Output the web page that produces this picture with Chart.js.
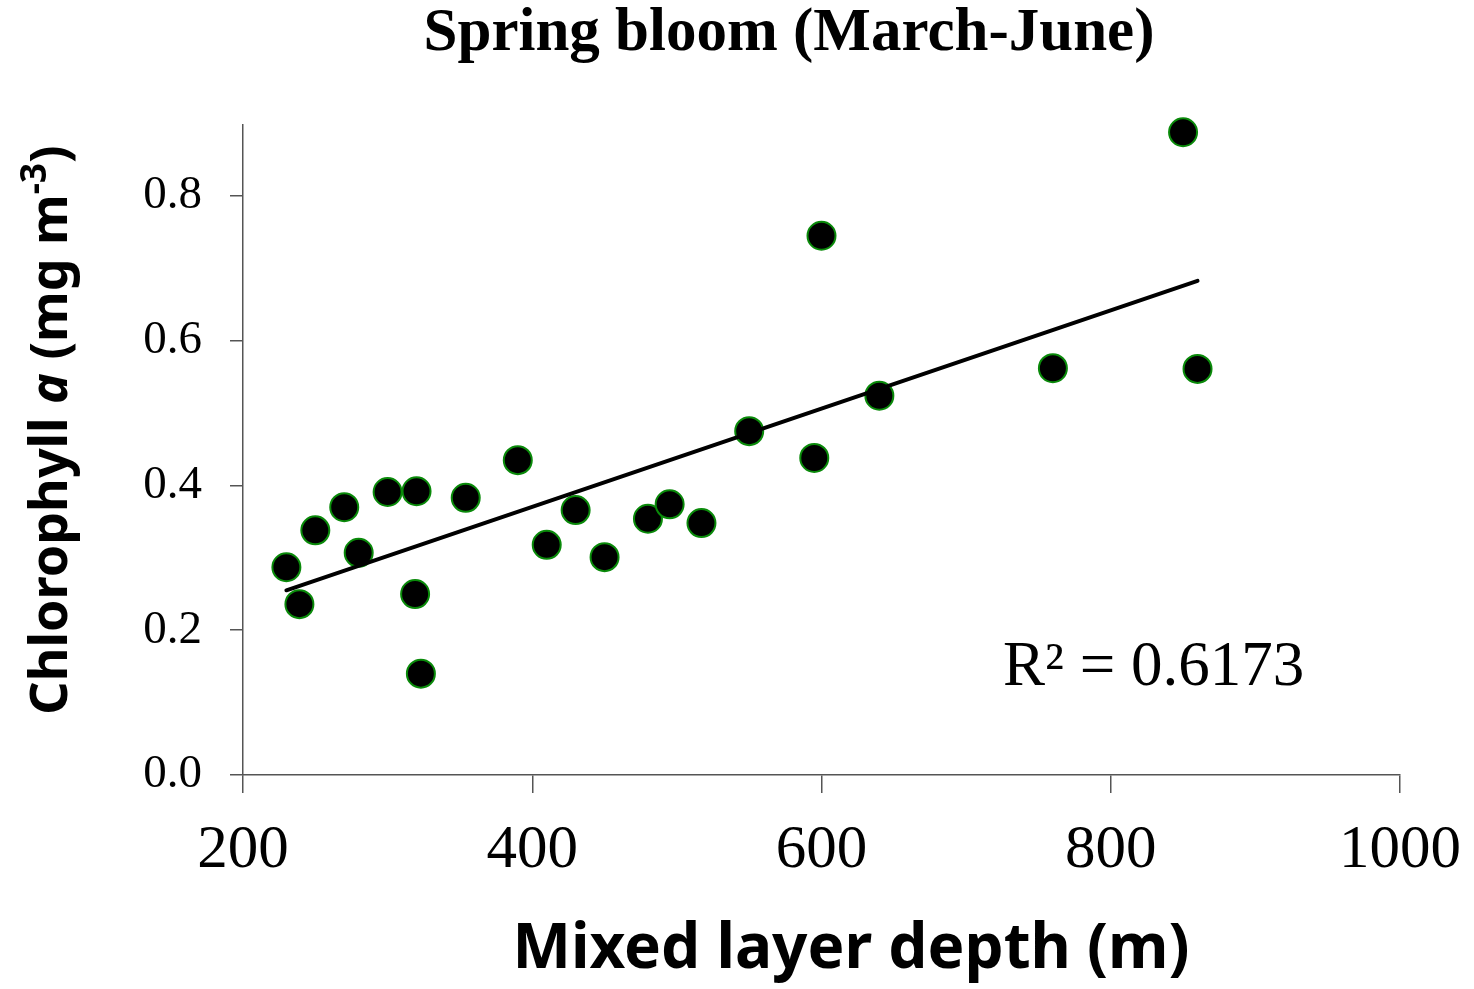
<!DOCTYPE html>
<html>
<head>
<meta charset="utf-8">
<script src="https://cdn.jsdelivr.net/npm/chart.js@4.4.1/dist/chart.umd.min.js"></script>
<style>
  html, body { margin: 0; padding: 0; background: #fff; }
  #wrap { width: 1474px; height: 989px; position: relative; }
</style>
</head>
<body>
<div id="wrap"><canvas id="c" width="1474" height="989"></canvas></div>
<script>
// Mixed layer depth (m) and chlorophyll a (mg m-3), spring bloom stations
const mixedLayerDepth = [230, 239, 250, 270, 280, 300, 320, 319, 323, 354, 390, 410, 430, 450, 480, 495, 517, 550, 595, 600, 640, 760, 850, 860];
const chlorophyll     = [0.287, 0.236, 0.338, 0.370, 0.307, 0.391, 0.392, 0.250, 0.140, 0.383, 0.435, 0.318, 0.366, 0.301, 0.354, 0.374, 0.348, 0.475, 0.438, 0.745, 0.524, 0.562, 0.888, 0.561];
const xTicks = [200, 400, 600, 800, 1000];
const yTicks = [0.0, 0.2, 0.4, 0.6, 0.8];
const titleText = 'Spring bloom (March-June)';
const rSquaredText = 'R\u00B2 = 0.6173';

// Least-squares trend line over the observed depth range
const n = mixedLayerDepth.length;
const mx = mixedLayerDepth.reduce((a, b) => a + b, 0) / n;
const my = chlorophyll.reduce((a, b) => a + b, 0) / n;
let sxy = 0, sxx = 0;
for (let i = 0; i < n; i++) {
  sxy += (mixedLayerDepth[i] - mx) * (chlorophyll[i] - my);
  sxx += (mixedLayerDepth[i] - mx) ** 2;
}
const slope = sxy / sxx;
const intercept = my - slope * mx;
const xMin = Math.min(...mixedLayerDepth), xMax = Math.max(...mixedLayerDepth);
const trend = [
  { x: xMin, y: intercept + slope * xMin },
  { x: xMax, y: intercept + slope * xMax }
];

const AXIS_COLOR = '#555555';
const SERIF = '"Liberation Serif", "Times New Roman", serif';
const TITLE_FONT = '"Noto Sans", "DejaVu Sans", sans-serif';

// Title, axis titles (with italic "a" and superscript) and R² note
const textPlugin = {
  id: 'texts',
  afterDraw(chart) {
    const ctx = chart.ctx;
    ctx.save();
    ctx.fillStyle = '#000';
    ctx.textBaseline = 'alphabetic';

    // Chart title
    ctx.font = 'bold 61px ' + SERIF;
    ctx.textAlign = 'center';
    ctx.fillText(titleText, 789, 50);

    // R² note
    ctx.font = '63px ' + SERIF;
    ctx.textAlign = 'left';
    ctx.fillText(rSquaredText, 1003, 685);

    // X axis title
    ctx.font = 'bold 62px ' + TITLE_FONT;
    ctx.textAlign = 'center';
    ctx.fillText('Mixed layer depth (m)', 851, 968);

    // Y axis title, rotated, composed of runs
    const runs = [
      { t: 'Chlorophyll ', f: 'bold 52px ' + TITLE_FONT, dy: 0 },
      { t: 'a', f: 'italic bold 52px ' + TITLE_FONT, dy: 0 },
      { t: ' (mg m', f: 'bold 52px ' + TITLE_FONT, dy: 0 },
      { t: '-3', f: 'bold 35px ' + TITLE_FONT, dy: -21 },
      { t: ')', f: 'bold 52px ' + TITLE_FONT, dy: 0 }
    ];
    let total = 0;
    runs.forEach(r => { ctx.font = r.f; r.w = ctx.measureText(r.t).width; total += r.w; });
    ctx.translate(67, 430);
    ctx.rotate(-Math.PI / 2);
    ctx.textAlign = 'left';
    let x = -total / 2;
    runs.forEach(r => { ctx.font = r.f; ctx.fillText(r.t, x, r.dy); x += r.w; });
    ctx.restore();
  }
};

new Chart(document.getElementById('c'), {
  type: 'scatter',
  data: {
    datasets: [
      {
        type: 'line',
        data: trend,
        borderColor: '#000',
        borderWidth: 4,
        borderCapStyle: 'round',
        pointRadius: 0,
        fill: false,
        clip: false,
        order: 0
      },
      {
        data: mixedLayerDepth.map((x, i) => ({ x, y: chlorophyll[i] })),
        backgroundColor: '#000',
        borderColor: '#0a8a0a',
        borderWidth: 2,
        pointRadius: 14,
        pointHoverRadius: 14,
        clip: false,
        order: 1
      }
    ]
  },
  options: {
    responsive: false,
    animation: false,
    devicePixelRatio: 1,
    layout: { padding: { top: 125, right: 74, left: 0, bottom: 0 } },
    plugins: {
      legend: { display: false },
      tooltip: { enabled: false }
    },
    scales: {
      x: {
        type: 'linear',
        min: 200, max: 1000,
        afterBuildTicks(s) { s.ticks = xTicks.map(v => ({ value: v })); },
        afterFit(s) {
          s.height = 989 - 775;
          s.paddingLeft = 0;
          s.paddingRight = 0;
        },
        border: { color: AXIS_COLOR, width: 1.5 },
        grid: { drawOnChartArea: false, tickLength: 18, color: AXIS_COLOR, lineWidth: 1.5 },
        ticks: {
          color: '#000',
          padding: 21,
          font: { family: SERIF, size: 61 },
          callback: v => String(v)
        }
      },
      y: {
        type: 'linear',
        min: 0, max: 0.898,
        afterBuildTicks(s) { s.ticks = yTicks.map(v => ({ value: v })); },
        afterFit(s) {
          s.width = 243;
          s.paddingTop = 0;
          s.paddingBottom = 0;
        },
        border: { color: AXIS_COLOR, width: 1.5 },
        grid: { drawOnChartArea: false, tickLength: 13, color: AXIS_COLOR, lineWidth: 1.5 },
        ticks: {
          color: '#000',
          padding: 28,
          font: { family: SERIF, size: 47 },
          callback: v => v.toFixed(1)
        }
      }
    }
  },
  plugins: [textPlugin]
});
</script>
</body>
</html>
